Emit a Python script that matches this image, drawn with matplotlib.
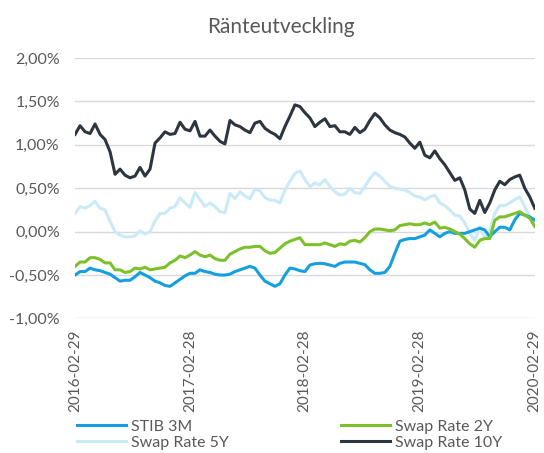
import numpy as np
import pandas as pd
import matplotlib
matplotlib.use("Agg")
import matplotlib.pyplot as plt
import matplotlib.dates as mdates
from matplotlib.ticker import FuncFormatter

# rates in percent, roughly every second week from 2016-02-29 to 2020-02-29
stib_3m = [-0.50, -0.46, -0.46, -0.42, -0.44, -0.45, -0.47, -0.49, -0.53, -0.57,
           -0.56, -0.56, -0.52, -0.47, -0.50, -0.53, -0.57, -0.59, -0.62, -0.63,
           -0.59, -0.55, -0.51, -0.48, -0.48, -0.44, -0.46, -0.47, -0.49, -0.50,
           -0.50, -0.49, -0.46, -0.44, -0.42, -0.40, -0.42, -0.50, -0.57, -0.60,
           -0.63, -0.60, -0.50, -0.42, -0.43, -0.45, -0.46, -0.385, -0.37, -0.365,
           -0.37, -0.385, -0.40, -0.365, -0.35, -0.35, -0.35, -0.365, -0.38, -0.44,
           -0.48, -0.48, -0.47, -0.40, -0.25, -0.11, -0.09, -0.08, -0.08, -0.06,
           -0.04, 0.02, -0.02, -0.06, -0.02, 0.00, -0.02, -0.02, -0.02, 0.00,
           0.02, 0.04, 0.02, -0.06, 0.00, 0.05, 0.05, 0.02, 0.135, 0.21,
           0.19, 0.17, 0.135]

swap_2y = [-0.40, -0.35, -0.35, -0.30, -0.30, -0.32, -0.36, -0.36, -0.44, -0.44,
           -0.47, -0.46, -0.42, -0.43, -0.41, -0.44, -0.43, -0.42, -0.41, -0.36,
           -0.33, -0.28, -0.30, -0.27, -0.23, -0.27, -0.29, -0.27, -0.31, -0.33,
           -0.33, -0.26, -0.23, -0.20, -0.18, -0.18, -0.17, -0.17, -0.22, -0.25,
           -0.24, -0.19, -0.14, -0.11, -0.09, -0.07, -0.15, -0.15, -0.15, -0.15,
           -0.13, -0.15, -0.17, -0.14, -0.15, -0.11, -0.10, -0.12, -0.07, 0.00,
           0.03, 0.03, 0.02, 0.01, 0.02, 0.07, 0.08, 0.09, 0.08, 0.08,
           0.10, 0.08, 0.11, 0.04, 0.05, 0.03, 0.00, -0.03, -0.08, -0.14,
           -0.18, -0.10, -0.08, -0.08, 0.13, 0.17, 0.17, 0.19, 0.21, 0.23,
           0.19, 0.155, 0.06]

swap_5y = [0.21, 0.29, 0.27, 0.30, 0.35, 0.27, 0.25, 0.12, 0.00, -0.04,
           -0.06, -0.06, -0.05, 0.01, -0.03, 0.00, 0.12, 0.21, 0.21, 0.27,
           0.29, 0.39, 0.33, 0.28, 0.45, 0.37, 0.29, 0.33, 0.29, 0.23,
           0.22, 0.44, 0.38, 0.46, 0.41, 0.38, 0.49, 0.47, 0.39, 0.365,
           0.36, 0.33, 0.48, 0.58, 0.67, 0.70, 0.60, 0.52, 0.56, 0.54,
           0.60, 0.52, 0.46, 0.42, 0.43, 0.50, 0.45, 0.44, 0.52, 0.61,
           0.68, 0.64, 0.58, 0.52, 0.50, 0.49, 0.48, 0.45, 0.41, 0.40,
           0.365, 0.40, 0.42, 0.33, 0.30, 0.25, 0.19, 0.18, 0.10, -0.02,
           -0.10, 0.05, -0.08, 0.02, 0.21, 0.30, 0.30, 0.33, 0.37, 0.40,
           0.29, 0.17, 0.10]

swap_10y = [1.12, 1.22, 1.15, 1.13, 1.24, 1.12, 1.06, 0.92, 0.66, 0.72,
            0.65, 0.62, 0.64, 0.74, 0.64, 0.72, 1.02, 1.08, 1.15, 1.12,
            1.13, 1.26, 1.18, 1.16, 1.27, 1.10, 1.10, 1.17, 1.10, 1.04,
            1.01, 1.28, 1.23, 1.21, 1.17, 1.14, 1.25, 1.27, 1.19, 1.15,
            1.12, 1.07, 1.21, 1.33, 1.46, 1.44, 1.37, 1.31, 1.21, 1.26,
            1.30, 1.21, 1.22, 1.15, 1.15, 1.12, 1.20, 1.14, 1.18, 1.28,
            1.36, 1.31, 1.23, 1.17, 1.14, 1.12, 1.09, 1.02, 0.96, 1.03,
            0.88, 0.85, 0.93, 0.84, 0.77, 0.68, 0.59, 0.62, 0.48, 0.26,
            0.21, 0.36, 0.22, 0.33, 0.48, 0.58, 0.54, 0.60, 0.63, 0.65,
            0.50, 0.40, 0.27]

labels = ["STIB 3M", "Swap Rate 2Y", "Swap Rate 5Y", "Swap Rate 10Y"]
colors = ["#14A0DE", "#7CC12B", "#CBEAF8", "#2C3640"]
tick_dates = ["2016-02-29", "2017-02-28", "2018-02-28", "2019-02-28", "2020-02-29"]

plt.rcParams['font.family'] = ['Lato', 'DejaVu Sans']
txt = "#595959"

fig = plt.figure(figsize=(5.44, 4.53), dpi=100)
ax = fig.add_axes([0.138, 0.297, 0.845, 0.575])

series = [stib_3m, swap_2y, swap_5y, swap_10y]
# 5Y first so the darker lines sit on top
order = [2, 0, 1, 3]
lines = {}
for i in order:
    d = pd.date_range("2016-02-29", "2020-02-29", periods=len(series[i]))
    lines[i], = ax.plot(d, series[i], color=colors[i], lw=2.2, label=labels[i],
                        solid_joinstyle="round")

ax.set_ylim(-1.0, 2.0)
ax.set_yticks(np.arange(-1.0, 2.01, 0.5))
ax.yaxis.set_major_formatter(FuncFormatter(lambda v, p: f"{v:.2f}%".replace(".", ",")))
ax.set_xlim(pd.Timestamp("2016-02-29"), pd.Timestamp("2020-02-29"))
ax.set_xticks(pd.to_datetime(tick_dates))
ax.xaxis.set_major_formatter(mdates.DateFormatter("%Y-%m-%d"))
plt.setp(ax.get_xticklabels(), rotation=90)

ax.grid(axis="y", color="#D9D9D9", lw=1.0)
ax.set_axisbelow(True)
for s in ax.spines.values():
    s.set_visible(False)
ax.tick_params(length=0, colors=txt)
ax.tick_params(axis="y", labelsize=11.5, pad=11)
ax.tick_params(axis="x", labelsize=11, pad=8)

fig.text(0.517, 0.927, "Ränteutveckling", fontsize=15, color=txt,
         ha="center", va="baseline")

# row-wise order like the original legend
hs = [lines[0], lines[2], lines[1], lines[3]]
ls = [labels[0], labels[2], labels[1], labels[3]]
fig.legend(hs, ls, loc="upper left", bbox_to_anchor=(0.1415, 0.074), ncol=2,
           frameon=False, fontsize=11.5, labelcolor=txt, handlelength=3.1,
           handletextpad=0.3, columnspacing=7.0, borderaxespad=0, borderpad=0,
           labelspacing=0.12)

fig.savefig("out.png", dpi=100)
